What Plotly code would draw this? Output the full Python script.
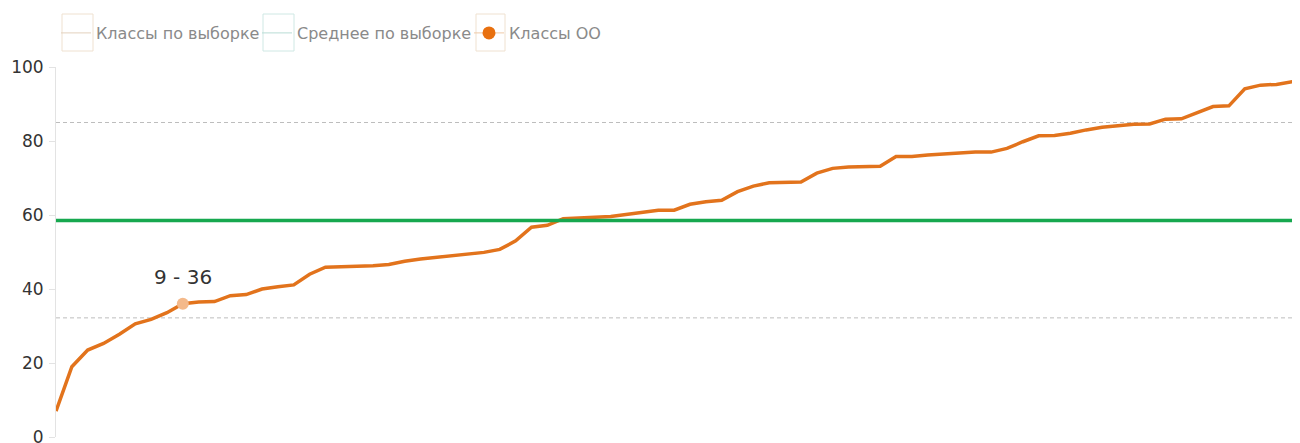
import plotly.graph_objects as go

# ---- data ----
class_ids = list(range(1, 81))
class_scores = [7.0, 19.0, 23.5, 25.3, 27.8, 30.6, 31.8, 33.6, 36.0, 36.5,
                36.6, 38.2, 38.5, 40.0, 40.6, 41.1, 44.0, 45.9, 46.0, 46.1,
                46.3, 46.6, 47.5, 48.1, 48.5, 48.9, 49.3, 49.9, 50.7, 53.0,
                56.7, 57.2, 59.0, 59.1, 59.4, 59.6, 60.1, 60.6, 61.3, 61.3,
                62.9, 63.6, 64.0, 66.3, 67.8, 68.7, 68.8, 68.9, 71.3, 72.6,
                73.0, 73.2, 73.2, 75.8, 75.8, 76.2, 76.5, 76.8, 77.0, 77.0,
                78.0, 79.8, 81.4, 81.5, 82.1, 83.0, 83.7, 84.1, 84.5, 84.6,
                85.9, 86.0, 87.7, 89.3, 89.5, 94.1, 95.1, 95.3, 96.0, 98.5]
highlight_id = 9
highlight_score = 36
mean_score = 58.5
band_lines = [85.0, 32.2]
y_ticks = [0, 20, 40, 60, 80, 100]

legend_names = ["Классы по выборке", "Среднее по выборке", "Классы ОО"]

FONT = "DejaVu Sans"
ORANGE = "#e2731c"
GREEN = "#17a84f"

# page body has an 8px margin; the figure is sized/placed to compensate
BODY = 8
PLOT_L, PLOT_R, PLOT_T, PLOT_B = 56, 1300, 67, 437   # plot area in window pixels
WIN_W, WIN_H = 1300, 443


def px_x(px):
    return (px - PLOT_L) / (PLOT_R - PLOT_L)


def px_y(py):
    return (PLOT_B - py) / (PLOT_B - PLOT_T)


fig = go.Figure()

# reference dashed lines
for v in band_lines:
    fig.add_hline(y=v, line=dict(color="#bdbdbd", width=1, dash="4px,3px"), layer="below")

# legend-only entries
fig.add_trace(go.Scatter(x=[None], y=[None], mode="lines", name=legend_names[0],
                         line=dict(color="#e3d2bd", width=1), legendgroup="g1",
                         legendwidth=156))
fig.add_trace(go.Scatter(x=[None], y=[None], mode="lines", name=legend_names[1],
                         line=dict(color="#b9dcd5", width=1), legendgroup="g2",
                         legendwidth=167))
fig.add_trace(go.Scatter(x=[None], y=[None], mode="lines+markers", name=legend_names[2],
                         line=dict(color="#efc9a6", width=1),
                         marker=dict(color="#e8700f", size=13), legendgroup="g3"))

# main line
fig.add_trace(go.Scatter(x=class_ids, y=class_scores, mode="lines", showlegend=False,
                         line=dict(color=ORANGE, width=3.5), legendgroup="g3",
                         hovertemplate="%{x} - %{y}<extra></extra>"))

# mean line
fig.add_trace(go.Scatter(x=[class_ids[0], class_ids[-1]], y=[mean_score, mean_score],
                         mode="lines", showlegend=False, legendgroup="g2",
                         line=dict(color=GREEN, width=3.5), hoverinfo="skip"))

# highlighted point
fig.add_trace(go.Scatter(x=[highlight_id], y=[highlight_score], mode="markers",
                         showlegend=False, legendgroup="g3",
                         marker=dict(color="#f4b98a", size=12), hoverinfo="skip"))
fig.add_annotation(x=highlight_id, y=highlight_score,
                   text=f"{highlight_id} - {highlight_score}",
                   showarrow=False, yanchor="middle", yshift=27,
                   font=dict(family=FONT, size=20, color="#333333"))

# boxes around legend symbols
for (x0, x1), col in zip([(62, 93), (263, 294), (476, 505)],
                         ["#efe1d0", "#cfe8e4", "#efe1d0"]):
    fig.add_shape(type="rect", xref="paper", yref="paper",
                  x0=px_x(x0), x1=px_x(x1), y0=px_y(51), y1=px_y(14),
                  line=dict(color=col, width=1), fillcolor="rgba(0,0,0,0)", layer="above")

step_px = 15.85
fig.update_layout(
    width=WIN_W - BODY, height=WIN_H - BODY,
    margin=dict(l=PLOT_L - BODY, r=0, t=PLOT_T - BODY, b=WIN_H - PLOT_B),
    paper_bgcolor="white", plot_bgcolor="white",
    font=dict(family=FONT, size=16, color="#333333"),
    showlegend=True,
    legend=dict(orientation="h", x=0, xanchor="left", y=px_y(33), yanchor="middle",
                font=dict(family=FONT, size=16, color="#8a8a8a"),
                bgcolor="rgba(0,0,0,0)", borderwidth=0),
    xaxis=dict(range=[1, 1 + (PLOT_R - PLOT_L) / step_px], visible=False,
               showgrid=False, zeroline=False),
    yaxis=dict(range=[0, 100], tickvals=y_ticks, showgrid=False, zeroline=False,
               showline=True, linecolor="#e3e3e3", linewidth=1,
               ticks="outside", ticklen=6, tickcolor="#e3e3e3",
               ticklabelstandoff=2, automargin=False, ticklabeloverflow="allow",
               tickfont=dict(family=FONT, size=17, color="#333333")),
)

fig.write_html("out.html")
